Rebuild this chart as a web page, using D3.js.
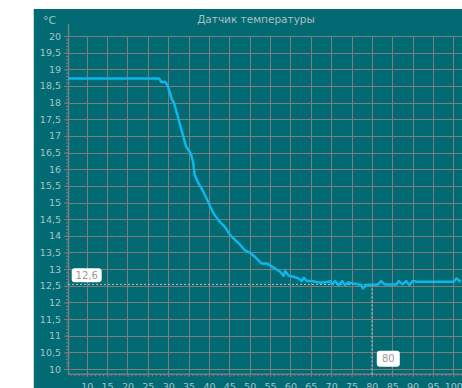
<!DOCTYPE html>
<html><head><meta charset="utf-8">
<script src="https://cdn.jsdelivr.net/npm/d3@7"></script>
<style>html,body{margin:0;padding:0;background:#fff;overflow:hidden}svg{display:block}</style>
</head><body>
<svg id="chart" width="462" height="388"></svg>
<script>
const title = "Датчик температуры";
const unitLabel = "°C";
// sample positions (x axis units) and temperature values (°C)
const sampleX = [5.4,27.8,28.3,29.3,29.9,30.9,31.4,34.4,35.5,36.1,36.5,37.4,38.4,38.8,39.8,41.1,42.3,43.9,45.2,47.2,48.8,50.1,51.3,52.9,54.2,55.8,56.2,57.5,58.3,58.7,59.6,60.8,62.0,62.8,63.3,64.1,65.3,66.9,68.6,69.8,70.2,71.0,71.9,72.7,73.4,74.2,77.4,77.8,78.6,81.5,82.3,83.1,86.0,86.6,87.5,88.4,89.2,90.0,91.2,100.1,100.8,101.8];
const temps   = [18.72,18.72,18.62,18.62,18.5,18.1,18.0,16.68,16.48,16.23,15.83,15.58,15.38,15.28,15.02,14.68,14.47,14.27,14.02,13.79,13.57,13.49,13.37,13.17,13.17,13.05,13.02,12.92,12.80,12.94,12.80,12.77,12.72,12.64,12.74,12.64,12.64,12.60,12.60,12.64,12.54,12.64,12.52,12.64,12.52,12.60,12.52,12.42,12.52,12.54,12.64,12.54,12.54,12.64,12.54,12.64,12.52,12.64,12.62,12.62,12.72,12.62];
const xTicks = [10,15,20,25,30,35,40,45,50,55,60,65,70,75,80,85,90,95,100];
const yTicks = [10,10.5,11,11.5,12,12.5,13,13.5,14,14.5,15,15.5,16,16.5,17,17.5,18,18.5,19,19.5,20];
const crossX = 80, crossXLabel = "80";
const crossY = 12.54, crossYLabel = "12,6";

const svg = d3.select("#chart");
const W = 462, H = 388;
const plotLeft = 68, plotBottom = 374.3, plotTop = 36;
const x = d3.scaleLinear().domain([5.4, 102.2]).range([plotLeft, 462.3]);
const y = d3.scaleLinear().domain([10, 20]).range([369, plotTop]);
const fmt = d => String(d).replace(".", ",");

// panel
svg.append("rect").attr("x", 33).attr("y", 9).attr("width", W - 33).attr("height", H - 9).attr("fill", "#016a73");
svg.append("line").attr("x1", 33.5).attr("x2", 33.5).attr("y1", 9).attr("y2", H).attr("stroke", "#c9d9da").attr("stroke-width", 1);

const gridColor = "#7f7c7e";
// grid
svg.append("g").selectAll("line").data(yTicks).join("line")
  .attr("x1", plotLeft).attr("x2", W).attr("y1", d => Math.round(y(d)) + 0.5).attr("y2", d => Math.round(y(d)) + 0.5)
  .attr("stroke", gridColor).attr("stroke-width", 1);
svg.append("g").selectAll("line").data(xTicks).join("line")
  .attr("x1", d => Math.round(x(d)) + 0.5).attr("x2", d => Math.round(x(d)) + 0.5).attr("y1", plotTop).attr("y2", plotBottom)
  .attr("stroke", gridColor).attr("stroke-width", 1);

// axes
const labelColor = "#a9c3c6";
const yMinor = d3.range(100, 201).map(v => v / 10);
const yAxisMinor = svg.append("g").attr("transform", `translate(${plotLeft},0)`)
  .call(d3.axisLeft(y).tickValues(yMinor).tickSize(2).tickFormat(""));
const yAxis = svg.append("g").attr("transform", `translate(${plotLeft},0)`)
  .call(d3.axisLeft(y).tickValues(yTicks).tickSize(4).tickPadding(3).tickFormat(fmt));
const xMinor = d3.range(6, 103);
const xAxisMinor = svg.append("g").attr("transform", `translate(0,${plotBottom})`)
  .call(d3.axisBottom(x).tickValues(xMinor).tickSize(2).tickFormat(""));
const xAxis = svg.append("g").attr("transform", `translate(0,${plotBottom})`)
  .call(d3.axisBottom(x).tickValues(xTicks).tickSize(3).tickPadding(6).tickFormat(d => d));
[yAxisMinor, yAxis, xAxisMinor, xAxis].forEach(g => {
  g.select(".domain").remove();
  g.selectAll(".tick line").attr("stroke", gridColor);
  g.selectAll("text").attr("fill", labelColor).attr("font-family", "DejaVu Sans").attr("font-size", 9.5);
});
svg.append("line").attr("x1", plotLeft + 0.5).attr("x2", plotLeft + 0.5).attr("y1", 24).attr("y2", plotBottom).attr("stroke", gridColor).attr("stroke-width", 1.5);
svg.append("line").attr("x1", plotLeft).attr("x2", W).attr("y1", plotBottom).attr("y2", plotBottom).attr("stroke", gridColor).attr("stroke-width", 1.5);

// title & unit
svg.append("text").attr("x", 256).attr("y", 23).attr("text-anchor", "middle")
  .attr("fill", "#adbfc2").attr("font-family", "DejaVu Sans").attr("font-size", 10.5).text(title);
svg.append("text").attr("x", 43).attr("y", 24)
  .attr("fill", labelColor).attr("font-family", "DejaVu Sans").attr("font-size", 11).text(unitLabel);

// crosshair
const cy = y(crossY);
svg.append("line").attr("x1", plotLeft).attr("x2", x(crossX)).attr("y1", cy).attr("y2", cy)
  .attr("stroke", "#b9c3c4").attr("stroke-width", 1).attr("stroke-dasharray", "2,2");
svg.append("line").attr("x1", x(crossX)).attr("x2", x(crossX)).attr("y1", cy).attr("y2", plotBottom)
  .attr("stroke", "#b9c3c4").attr("stroke-width", 1).attr("stroke-dasharray", "2,2");

// line
const data = sampleX.map((v, i) => [v, temps[i]]);
svg.append("path").datum(data)
  .attr("fill", "none").attr("stroke", "#12b5e8").attr("stroke-width", 2.5).attr("stroke-linejoin", "round")
  .attr("d", d3.line().x(d => x(d[0])).y(d => y(d[1])));

// labels
function tag(cx, cyy, w, h, txt) {
  svg.append("rect").attr("x", cx - w / 2).attr("y", cyy - h / 2).attr("width", w).attr("height", h)
    .attr("rx", 3).attr("fill", "#ffffff");
  svg.append("text").attr("x", cx).attr("y", cyy + 3.6).attr("text-anchor", "middle")
    .attr("fill", "#9a9a9a").attr("font-family", "DejaVu Sans").attr("font-size", 10).text(txt);
}
tag(86.7, 275.3, 30, 14, crossYLabel);
tag(388.3, 358.8, 23, 16, crossXLabel);
</script>
</body></html>
